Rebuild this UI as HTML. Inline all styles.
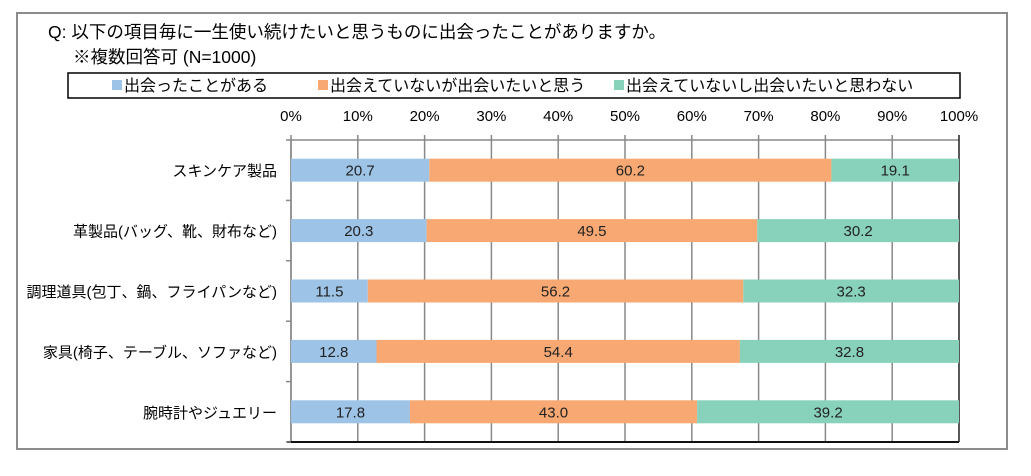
<!DOCTYPE html>
<html><head><meta charset="utf-8"><style>
body{margin:0;background:#fff;width:1031px;height:471px;overflow:hidden;font-family:"Liberation Sans","Noto Sans CJK JP",sans-serif;}
</style></head><body>
<svg width="1031" height="471" style="font-family:'Liberation Sans','Noto Sans CJK JP',sans-serif">
<rect x="17" y="13" width="990" height="436" fill="#fff" stroke="#8c8c8c" stroke-width="2"/>
<text x="48" y="38" font-size="17.5" fill="#000">Q: 以下の項目毎に一生使い続けたいと思うものに出会ったことがありますか。</text>
<text x="73" y="63" font-size="17.5" fill="#000">※複数回答可 (N=1000)</text>
<g id="legend">
<rect x="68" y="73" width="892" height="25" fill="#fff" stroke="#000" stroke-width="1.5"/>
</g>
<g id="axis"></g>
<g id="bars"></g>
</svg>
<script>
const categories=["スキンケア製品","革製品(バッグ、靴、財布など)","調理道具(包丁、鍋、フライパンなど)","家具(椅子、テーブル、ソファなど)","腕時計やジュエリー"];
const seriesNames=["出会ったことがある","出会えていないが出会いたいと思う","出会えていないし出会いたいと思わない"];
const s1=[20.7,20.3,11.5,12.8,17.8];
const s2=[60.2,49.5,56.2,54.4,43.0];
const s3=[19.1,30.2,32.3,32.8,39.2];
const ticks=[0,10,20,30,40,50,60,70,80,90,100];
const colors=["#9dc3e6","#f8a872","#88d1bb"];
const NS="http://www.w3.org/2000/svg";
const X0=291,X1=959,Y0=140,Y1=442;
const xs=v=>X0+(X1-X0)*v/100;
const band=(Y1-Y0)/categories.length;
function mk(tag,attrs,parent){const e=document.createElementNS(NS,tag);for(const k in attrs)e.setAttribute(k,attrs[k]);parent.appendChild(e);return e;}
const ax=document.getElementById('axis'),bars=document.getElementById('bars'),lg=document.getElementById('legend');
const lx=[112,318,614];
seriesNames.forEach((n,i)=>{
 const r=mk('rect',{x:lx[i],y:80,width:10,height:10,fill:colors[i]},lg);
 
 
 const t=mk('text',{x:lx[i]+12,y:91,'font-size':16,fill:'#000'},lg);t.textContent=n;
 
 
});
mk('line',{x1:X0,y1:Y0,x2:X1,y2:Y0,stroke:'#888','stroke-width':1.5},ax);
ticks.forEach(t=>{
 const x=xs(t);
 const l=mk('line',{x1:x,y1:Y0-5,x2:x,y2:Y1,stroke:t==100?'#222':'#888','stroke-width':1.5},ax);
 
 
 const tx=mk('text',{x:x,y:121,'font-size':15,'text-anchor':'middle',fill:'#000'},ax);tx.textContent=t+'%';
 
 
});
mk('line',{x1:X0,y1:Y0,x2:X0,y2:Y1,stroke:'#888','stroke-width':1.5},ax);
mk('line',{x1:X0-4,y1:Y1,x2:X1,y2:Y1,stroke:'#111','stroke-width':2},ax);
for(let i=0;i<=categories.length;i++){mk('line',{x1:X0-5,y1:Y0+band*i,x2:X0,y2:Y0+band*i,stroke:'#888','stroke-width':1.5},ax);}
categories.forEach((c,i)=>{
 const cy=Y0+band*(i+0.5);
 const lab=mk('text',{x:X0-14,y:cy+6,'font-size':15,'text-anchor':'end',fill:'#000'},ax);lab.textContent=c;
 
 
 let acc=0;
 [s1,s2,s3].forEach((s,k)=>{
  const v=s[i];
  const r=mk('rect',{x:xs(acc),y:cy-11.5,width:xs(acc+v)-xs(acc),height:23,fill:colors[k]},bars);
  
  
  const t=mk('text',{x:(xs(acc)+xs(acc+v))/2,y:cy+5.5,'font-size':15,'text-anchor':'middle',fill:'#222'},bars);
  t.textContent=v.toFixed(1);
  
  
  acc+=v;
 });
});
</script>
</body></html>
